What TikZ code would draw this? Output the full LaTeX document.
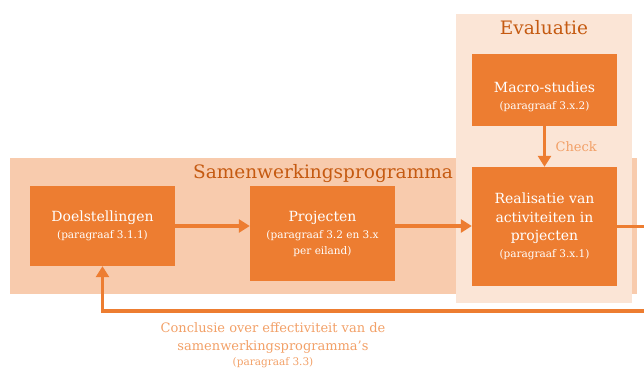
\documentclass[tikz,border=0pt]{standalone}
\usepackage{fontspec}
\setmainfont{DejaVu Serif}
\usetikzlibrary{arrows.meta}
\definecolor{boxor}{HTML}{ED7D31}
\definecolor{bandor}{HTML}{F8CBAD}
\definecolor{evalor}{HTML}{FBE5D6}
\definecolor{titleor}{HTML}{C55A11}
\definecolor{lightor}{HTML}{F2A067}
\tikzset{
  stepbox/.style={fill=boxor, draw=none, text=white, align=center, inner sep=2pt, font=\fontsize{14}{17}\selectfont},
  area/.style={draw=none, inner sep=0pt},
  flow/.style={draw=boxor, line width=3.5pt, -{Triangle[length=11pt,width=13pt]}},
}
\newcommand{\parref}[1]{{\fontsize{10.5}{12.5}\selectfont #1}}
\begin{document}
\begin{tikzpicture}[x=1pt,y=-1pt]
\useasboundingbox (0,0) rectangle (644,370);
\node[area, fill=bandor, minimum width=627pt, minimum height=136pt] (band) at (323.5,226) {};
\node[area, fill=evalor, minimum width=176pt, minimum height=289pt] (eval) at (544,158.5) {};
\node[text=titleor, font=\fontsize{18.5}{20}\selectfont, anchor=base] (bandtitle) at (323,178) {Samenwerkingsprogramma};
\node[text=titleor, font=\fontsize{18.5}{20}\selectfont, anchor=base] (evaltitle) at (544,34) {Evaluatie};
\node[stepbox, minimum width=145pt, minimum height=80pt] (doel) at (102.5,226) {Doelstellingen\\[0pt]\parref{(paragraaf 3.1.1)}};
\node[stepbox, minimum width=145pt, minimum height=95pt] (proj) at (322.5,233.5) {Projecten\\[0pt]\parref{(paragraaf 3.2 en 3.x}\\[-1pt]\parref{per eiland)}};
\node[stepbox, minimum width=145pt, minimum height=72pt] (macro) at (544.5,90) {\rule{0pt}{24pt}Macro-studies\\[0pt]\parref{(paragraaf 3.x.2)}};
\node[stepbox, minimum width=145pt, minimum height=119pt] (real) at (544.5,226.5) {Realisatie van\\[1.5pt]activiteiten in\\[1.5pt]projecten\\[0pt]\parref{(paragraaf 3.x.1)}};
\draw[flow] (doel.east) -- (proj.west |- doel.east);
\draw[flow] (proj.east |- doel.east) -- (real.west |- doel.east);
\draw[flow] (macro) -- node[right=6pt, text=lightor, font=\fontsize{13}{15}\selectfont] (check) {Check} (real);
\coordinate (rt) at (660,226.5);
\coordinate (rb) at (660,311);
\coordinate (lb) at (102.5,311);
\draw[flow] (real.east) -- (rt) -- (rb) -- (lb) -- (doel.south);
\node[text=lightor, align=center, font=\fontsize{13}{16}\selectfont] (concl) at (273,345) {Conclusie over effectiviteit van de\\[2pt]samenwerkingsprogramma’s\\[-1pt]\parref{(paragraaf 3.3)}};
\end{tikzpicture}
\end{document}
